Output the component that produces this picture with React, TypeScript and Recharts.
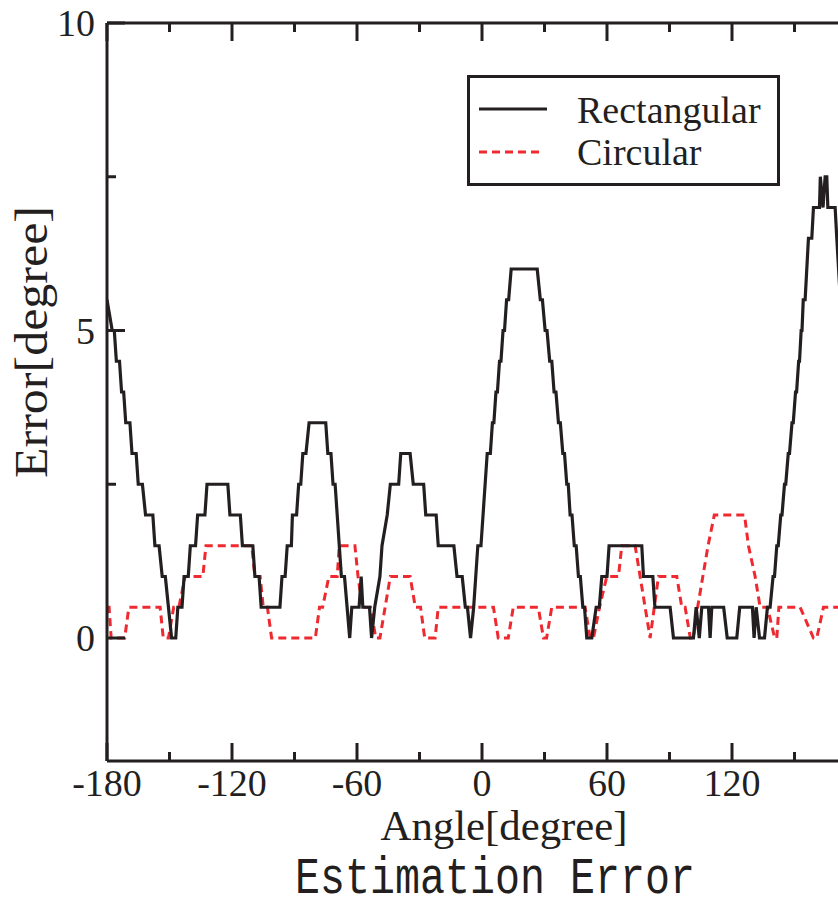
import React from 'react';
import { LineChart, Line, XAxis, YAxis, Legend } from 'recharts';

// ---- data (corner points of the step curves) ----
const rectangularAngles = [
  -180, -177.5, -176.5, -175.5, -174, -173, -172, -171, -169, -168, -166, -165, -163, -161.5, -158,
  -157, -155, -153.5, -152, -150.5, -149, -147, -146, -144, -143, -141, -140, -137.5, -136.5, -133,
  -132, -122, -121, -116, -115, -110, -109, -107, -106, -97, -96, -94.5, -93.5, -91.5, -91, -89,
  -88, -87, -86, -84.5, -83, -75, -74, -72.5, -71.5, -70.5, -69.5, -68.5, -67.5, -66, -63.5,
  -62.5, -59, -58, -57.2, -54, -53, -51.5, -49, -48, -45.5, -44, -40, -39, -34.5, -33, -28, -27,
  -22, -21, -13.5, -12, -9.5, -8, -7, -5.5, -4, -3, -2, -0.5, 0.5, 1.5, 2.5, 4, 5, 5.7, 6.7, 7.4,
  8.4, 9.1, 10.1, 10.8, 11.8, 12.8, 14, 26.5, 28, 29, 30.3, 31.2, 32.5, 33.5, 34.6, 35.5, 36.7, 37.6,
  38.8, 39.6, 40.7, 41.4, 42.3, 43.2, 44.3, 45.2, 46.3, 47.2, 48.4, 49.2, 50.3, 52.7, 54.8, 56.3,
  57.5, 60, 61, 76.7, 77.5, 82, 83, 90.3, 91.9, 101.5, 102.8, 104.3, 105.5, 108.7, 109.5, 110.3,
  116, 117.7, 122.3, 123.7, 129.8, 130.6, 131.6, 133.2, 135.6, 137, 138.3, 139.7, 140.4, 141.5,
  142.2, 143.4, 144, 145.2, 145.8, 147, 147.6, 148.8, 149.4, 150.5, 151, 152, 152.4, 153.2, 153.6,
  154.2, 155.1, 156.7, 158.3, 159.1, 162, 162.4, 163.7, 164.7, 165.5, 166, 169.5, 170.3, 172,
];
const rectangularErrors = [
  5.5, 5, 5, 4.5, 4.5, 4, 4, 3.5, 3.5, 3, 3, 2.5, 2.5, 2, 2,
  1.5, 1.5, 1, 1, 0.5, 0, 0, 0.5, 0.5, 1, 1, 1.5, 1.5, 2, 2,
  2.5, 2.5, 2, 2, 1.5, 1.5, 1, 1, 0.5, 0.5, 1, 1, 1.5, 1.5, 2, 2,
  2.5, 2.5, 3, 3, 3.5, 3.5, 3, 3, 2.5, 2.5, 2, 1.5, 1, 1, 0,
  0.5, 0.5, 1, 0.5, 0.5, 0, 0.5, 1, 1.5, 2, 2.5, 2.5, 3, 3, 2.5, 2.5, 2,
  2, 1.5, 1.5, 1, 1, 0.5, 0.5, 0, 0.5, 1, 1.5, 1.5, 2, 2.5, 3, 3, 3.5, 3.5, 4, 4,
  4.5, 4.5, 5, 5, 5.5, 5.5, 6, 6, 5.5, 5.5, 5, 5, 4.5, 4.5, 4, 4, 3.5, 3.5,
  3, 3, 2.5, 2.5, 2, 2, 1.5, 1.5, 1, 1, 0.5, 0.5, 0, 0, 0.5, 0.5,
  1, 1, 1.5, 1.5, 1, 1, 0.5, 0.5, 0, 0, 0.5, 0, 0.5, 0.5, 0, 0.5,
  0.5, 0, 0, 0.5, 0.5, 0, 0.5, 0, 0, 0.5, 0.5, 1, 1, 1.5,
  1.5, 2, 2, 2.5, 2.5, 3, 3, 3.5, 3.5, 4, 4, 4.5, 4.5, 5, 5,
  5.5, 5.5, 6.5, 6.5, 7, 7, 7.5, 7, 7.5, 7.5, 7, 7, 6.5, 5.5,
];
const circularAngles = [
  -180, -179, -178, -171.5, -169.5, -154.5, -153, -150.5, -148, -145.5, -142.5, -134, -132.5,
  -110.5, -109, -106.5, -105, -103, -101, -80, -78, -76.5, -73.5, -69.5, -68.5, -61, -59.5, -57.5,
  -53.5, -51, -49, -46.5, -44, -34.5, -32, -29.5, -27.5, -22.5, -21, 5.5, 7.8, 12.6, 15, 27, 29.5,
  31, 33.5, 49.5, 51.9, 53.5, 56.4, 59.9, 65.5, 67.1, 73.5, 75.9, 78.3, 80.7, 82.7, 84.7, 93.5,
  95.9, 97.5, 100, 101.5, 103.5, 106, 108.5, 111.5, 126, 127.9, 131.1, 133.5, 137, 140.5, 141.5,
  142.5, 152.7, 159.1, 160.7, 163.9, 180,
];
const circularErrors = [
  0.5, 0.5, 0, 0, 0.5, 0.5, 0, 0, 0.5, 0.5, 1, 1, 1.5,
  1.5, 1, 1, 0.5, 0.5, 0, 0, 0.5, 0.5, 1, 1, 1.5, 1.5, 1, 0.5,
  0.5, 0, 0, 0.5, 1, 1, 0.5, 0.5, 0, 0, 0.5, 0.5, 0, 0, 0.5, 0.5, 0,
  0, 0.5, 0.5, 0, 0, 0.5, 1, 1, 1.5, 1.5, 1, 0.5, 0, 0.5, 1, 1,
  0.5, 0.5, 0, 0, 0.5, 1, 1.5, 2, 2, 1.5, 1, 0.5, 0.5, 0, 0,
  0.5, 0.5, 0, 0, 0.5, 0.5,
];

const angleTicks = [-180, -150, -120, -90, -60, -30, 0, 30, 60, 90, 120, 150, 180];
const angleMajor = [-180, -120, -60, 0, 60, 120, 180];
const angleLabels = [-180, -120, -60, 0, 60, 120];
const errorTicks = [0, 2.5, 5, 7.5, 10];
const errorLabels = [0, 5, 10];
const seriesOrder = ['Rectangular', 'Circular'];

const rectangularData = rectangularAngles.map((a, i) => ({ angle: a, error: rectangularErrors[i] }));
const circularData = circularAngles.map((a, i) => ({ angle: a, error: circularErrors[i] }));

const INK = '#231f20';
const RED = '#ee2a30';
const SERIF = '"Liberation Serif", "Times New Roman", serif';
const MAJOR = 18;
const MINOR = 9;

const BottomTick = (props: any) => {
  const { x, y, payload } = props;
  const v = payload.value;
  const major = angleMajor.includes(v);
  return (
    <g>
      <line x1={x} x2={x} y1={y} y2={y - (major ? MAJOR : MINOR)} stroke={INK} strokeWidth={3} />
      {angleLabels.includes(v) && (
        <text x={x} y={y + 35} textAnchor="middle" fontSize={38} fontFamily={SERIF} fill={INK}>
          {String(v)}
        </text>
      )}
    </g>
  );
};

const TopTick = (props: any) => {
  const { x, y, payload } = props;
  const major = angleMajor.includes(payload.value);
  return <line x1={x} x2={x} y1={y} y2={y + (major ? MAJOR : MINOR)} stroke={INK} strokeWidth={3} />;
};

const LeftTick = (props: any) => {
  const { x, y, payload } = props;
  const v = payload.value;
  const major = errorLabels.includes(v);
  return (
    <g>
      <line x1={x} x2={x + (major ? MAJOR : MINOR)} y1={y} y2={y} stroke={INK} strokeWidth={3} />
      {major && (
        <text x={x - 12} y={y + 13} textAnchor="end" fontSize={38} fontFamily={SERIF} fill={INK}>
          {String(v)}
        </text>
      )}
    </g>
  );
};

const RightTick = (props: any) => {
  const { x, y, payload } = props;
  const major = errorLabels.includes(payload.value);
  return <line x1={x} x2={x - (major ? MAJOR : MINOR)} y1={y} y2={y} stroke={INK} strokeWidth={3} />;
};

const XLabel = (props: any) => {
  const vb = props.viewBox || { x: 107, y: 761 };
  return (
    <g>
      <text x={vb.x + 397} y={vb.y + 79} textAnchor="middle" fontSize={42} fontFamily={SERIF} fill={INK}
        textLength={247} lengthAdjust="spacingAndGlyphs">
        Angle[degree]
      </text>
      <text x={vb.x + 388} y={vb.y + 132} textAnchor="middle" fontSize={52} fontFamily='"Liberation Mono", "DejaVu Sans Mono", monospace'
        fill={INK} textLength={400} lengthAdjust="spacingAndGlyphs">
        Estimation Error
      </text>
    </g>
  );
};

const YLabel = () => {
  const cx = 47;
  const cy = 342;
  return (
    <text x={cx} y={cy} transform={`rotate(-90, ${cx}, ${cy})`} textAnchor="middle" fontSize={46}
      fontFamily={SERIF} fill={INK} textLength={272} lengthAdjust="spacingAndGlyphs">
      Error[degree]
    </text>
  );
};

const LegendBox = (props: any) => {
  const payload = [...(props.payload || [])].sort(
    (a: any, b: any) => seriesOrder.indexOf(a.value) - seriesOrder.indexOf(b.value),
  );
  return (
    <svg width={313} height={111} style={{ display: 'block' }}>
      <rect x={1.5} y={1.5} width={310} height={108} fill="#ffffff" stroke={INK} strokeWidth={3} />
      {payload.map((p: any, i: number) => {
        const dashed = p.value === 'Circular';
        return (
          <g key={p.value}>
            <line x1={12} x2={dashed ? 74 : 80} y1={34 + i * 43} y2={34 + i * 43} stroke={p.color}
              strokeWidth={3} strokeDasharray={dashed ? '8 5' : undefined} />
            <text x={110} y={48 + i * 42} fontSize={38} fontFamily={SERIF} fill={INK}>
              {p.value}
            </text>
          </g>
        );
      })}
    </svg>
  );
};

export default function App() {
  return (
    <div style={{ width: 838, height: 900, overflow: 'hidden', background: '#ffffff' }}>
      <style>{`body { margin: 0; }`}</style>
      <LineChart width={880} height={900} margin={{ top: 0, right: 0, bottom: 0, left: 0 }}>
        <XAxis xAxisId="b" dataKey="angle" type="number" domain={[-180, 180]} ticks={angleTicks} interval={0}
          orientation="bottom" height={139} tickSize={0} tickMargin={0} tickLine={false}
          axisLine={{ stroke: INK, strokeWidth: 3 }} tick={<BottomTick />} allowDataOverflow
          label={{ content: <XLabel /> }} />
        <XAxis xAxisId="t" dataKey="angle" type="number" domain={[-180, 180]} ticks={angleTicks} interval={0}
          orientation="top" height={23} tickSize={0} tickMargin={0} tickLine={false}
          axisLine={{ stroke: INK, strokeWidth: 3 }} tick={<TopTick />} allowDataOverflow />
        <YAxis yAxisId="l" type="number" domain={[-2, 10]} ticks={errorTicks} interval={0} width={107}
          tickSize={0} tickMargin={0} tickLine={false} axisLine={{ stroke: INK, strokeWidth: 3 }}
          tick={<LeftTick />} allowDataOverflow label={{ content: <YLabel /> }} />
        <YAxis yAxisId="r" orientation="right" type="number" domain={[-2, 10]} ticks={errorTicks} interval={0}
          width={23} tickSize={0} tickMargin={0} tickLine={false} axisLine={{ stroke: INK, strokeWidth: 3 }}
          tick={<RightTick />} allowDataOverflow />
        <Legend layout="vertical" align="center" verticalAlign="middle"
          wrapperStyle={{ left: 467, top: 75, width: 313, height: 111 }} content={<LegendBox />} />
        <Line xAxisId="b" yAxisId="l" data={circularData} dataKey="error" name="Circular" type="linear"
          stroke={RED} strokeWidth={3} strokeDasharray="8 5" dot={false} isAnimationActive={false} />
        <Line xAxisId="b" yAxisId="l" data={rectangularData} dataKey="error" name="Rectangular" type="linear"
          stroke={INK} strokeWidth={3.2} dot={false} isAnimationActive={false} />
      </LineChart>
    </div>
  );
}
